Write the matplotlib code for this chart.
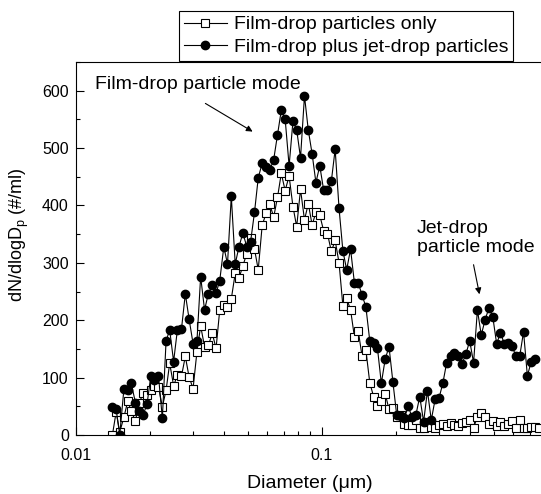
import matplotlib
matplotlib.use('Agg')
import matplotlib.pyplot as plt
from matplotlib.ticker import FixedLocator, FixedFormatter, MultipleLocator, NullFormatter

plt.rcParams['font.family'] = ['Liberation Sans', 'DejaVu Sans']
plt.rcParams['mathtext.fontset'] = 'custom'
plt.rcParams['mathtext.rm'] = 'Liberation Sans'
plt.rcParams['mathtext.it'] = 'Liberation Sans:italic'

# SMPS channel mid-point diameters (nm)
diam_nm = [14.1, 14.6, 15.1, 15.7, 16.3, 16.8, 17.5, 18.1, 18.8, 19.5,
           20.2, 20.9, 21.7, 22.5, 23.3, 24.1, 25.0, 25.9, 26.9, 27.9,
           28.9, 30.0, 31.1, 32.2, 33.4, 34.6, 35.9, 37.2, 38.5, 40.0,
           41.4, 42.9, 44.5, 46.1, 47.8, 49.6, 51.4, 53.3, 55.2, 57.3,
           59.4, 61.5, 63.8, 66.1, 68.5, 71.0, 73.7, 76.4, 79.1, 82.0,
           85.1, 88.2, 91.4, 94.7, 98.2, 101.8, 105.5, 109.4, 113.4, 117.6,
           121.9, 126.3, 131.0, 135.8, 140.7, 145.9, 151.2, 156.8, 162.5, 168.5,
           174.7, 181.1, 187.7, 194.6, 201.7, 209.1, 216.7, 224.7, 232.9, 241.4,
           250.3, 259.5, 269.0, 278.8, 289.0, 299.6, 310.6, 322.0, 333.8, 346.0,
           358.7, 371.8, 385.4, 399.5, 414.2, 429.4, 445.1, 461.4, 478.3, 495.8,
           514.0, 532.8, 552.3, 572.5, 593.5, 615.3, 637.8, 661.2, 685.4, 710.5,
           736.5, 763.5]

film_only = [0, 40, 5, 31, 60, 41, 25, 55, 73, 70,
             78, 85, 84, 49, 78, 125, 86, 104, 102, 137,
             101, 81, 145, 190, 154, 156, 177, 151, 218, 227,
             223, 237, 282, 273, 295, 316, 343, 324, 288, 366,
             386, 402, 380, 414, 456, 426, 451, 398, 363, 428,
             375, 403, 366, 388, 383, 356, 351, 320, 339, 300,
             225, 238, 218, 171, 182, 137, 148, 91, 67, 51,
             60, 72, 45, 47, 31, 35, 20, 18, 17, 27,
             12, 13, 23, 14, 12, 17, 20, 16, 21, 17,
             16, 21, 23, 26, 13, 31, 39, 32, 20, 25,
             16, 23, 16, 19, 25, 12, 27, 13, 13, 14,
             14, 13]

film_plus_jet = [49, 45, 0, 80, 78, 91, 56, 41, 35, 54,
                 103, 95, 103, 29, 164, 183, 128, 183, 184, 246,
                 202, 159, 163, 276, 218, 246, 262, 247, 269, 328,
                 298, 416, 298, 328, 352, 328, 337, 388, 448, 474,
                 467, 461, 480, 523, 566, 551, 469, 547, 532, 483,
                 591, 531, 490, 440, 469, 427, 427, 442, 498, 395,
                 321, 288, 324, 265, 265, 244, 223, 164, 161, 151,
                 90, 132, 154, 93, 35, 33, 29, 50, 31, 35,
                 67, 23, 77, 26, 62, 64, 90, 126, 138, 143,
                 137, 124, 141, 164, 126, 218, 174, 201, 221, 206,
                 159, 178, 159, 160, 155, 138, 137, 180, 103, 128,
                 132]

diam_um = [d / 1000.0 for d in diam_nm]

W, H = 541, 494
BIG = 14
fig = plt.figure(figsize=(W / 100, H / 100), dpi=100)
ax = fig.add_axes([75.7 / W, 59 / H, 468.2 / W, 373 / H])

l1, = ax.plot(diam_um[:len(film_only)], film_only, '-s', color='black', lw=0.8,
              ms=5.3, mfc='white', mec='black', mew=0.8,
              label='Film-drop particles only')
l2, = ax.plot(diam_um[:len(film_plus_jet)], film_plus_jet, '-o', color='black', lw=0.8,
              ms=6.0, mfc='black', mec='black',
              label='Film-drop plus jet-drop particles')

ax.set_xscale('log')
ax.set_xlim(0.01, 0.8)
ax.set_ylim(0, 650)

ax.xaxis.set_major_locator(FixedLocator([0.01, 0.1]))
ax.xaxis.set_major_formatter(FixedFormatter(['0.01', '0.1']))
ax.xaxis.set_minor_locator(FixedLocator([m * 10.0 ** e for e in (-2, -1) for m in range(2, 10)]))
ax.xaxis.set_minor_formatter(NullFormatter())
ax.yaxis.set_major_locator(MultipleLocator(100))
ax.yaxis.set_minor_locator(MultipleLocator(50))

ax.tick_params(which='both', direction='in', top=False, right=False,
               labelsize=11.5, width=0.8)
ax.tick_params(axis='x', which='both', pad=9)
ax.tick_params(axis='y', which='both', pad=5)
ax.tick_params(which='major', length=6)
ax.tick_params(which='minor', length=3)
for s in ax.spines.values():
    s.set_linewidth(0.8)

fig.text(310 / W, 1 - 483 / H, 'Diameter (μm)', ha='center', va='center', fontsize=BIG)
fig.text(19 / W, 1 - 235 / H, r'dN/dlogD$_\mathrm{p}$ (#/ml)', rotation=90,
         ha='center', va='center', fontsize=13)

fig.text(95 / W, 1 - 84 / H, 'Film-drop particle mode', ha='left', va='center', fontsize=BIG)
ax.annotate('', xy=(255, H - 133), xytext=(203, H - 102),
            xycoords='figure pixels', textcoords='figure pixels',
            arrowprops=dict(arrowstyle='-|>', color='black', lw=0.8, mutation_scale=9))
fig.text(417 / W, 1 - 238 / H, 'Jet-drop\nparticle mode', ha='left', va='center',
         fontsize=BIG, linespacing=1.1)
ax.annotate('', xy=(480, H - 297), xytext=(473, H - 262),
            xycoords='figure pixels', textcoords='figure pixels',
            arrowprops=dict(arrowstyle='-|>', color='black', lw=0.8, mutation_scale=9))

leg = ax.legend(handles=[l1, l2], loc='upper right',
                bbox_to_anchor=(513 / W, 1 - 11 / H), bbox_transform=fig.transFigure,
                frameon=True, fancybox=False, edgecolor='black', framealpha=1,
                borderpad=0.25, labelspacing=0.25, handlelength=2.2,
                handletextpad=0.35, borderaxespad=0, fontsize=BIG, numpoints=1)
leg.get_frame().set_linewidth(0.8)

fig.savefig('out.png', dpi=100)
